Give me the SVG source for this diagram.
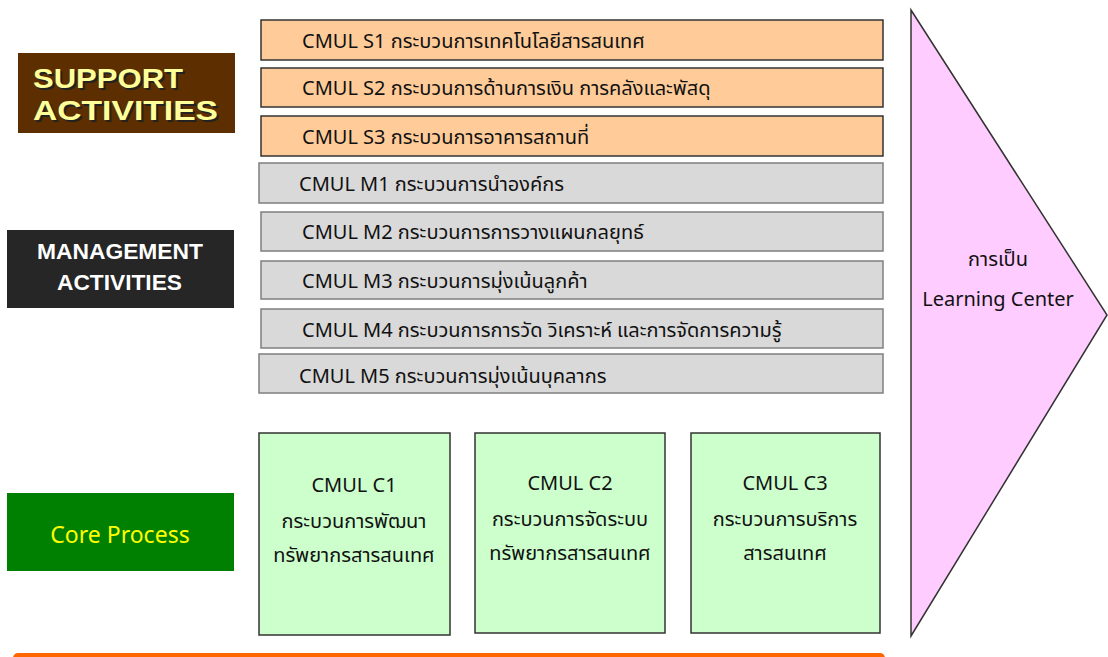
<svg xmlns="http://www.w3.org/2000/svg" width="1108" height="657" viewBox="0 0 1108 657">
<style>
.sup{fill:#ffcc99;stroke:#333;stroke-width:1.5}
.mgt{fill:#d9d9d9;stroke:#7f7f7f;stroke-width:1.5}
.core{fill:#ccffcc;stroke:#333;stroke-width:1.5}
.t{font-family:"Noto Sans","Noto Sans Thai","DejaVu Sans",sans-serif;font-size:20px;fill:#111}
.tc{font-family:"Noto Sans","Noto Sans Thai","DejaVu Sans",sans-serif;font-size:20px;fill:#111;text-anchor:middle}
.hb{font-family:"Liberation Sans",Arial,sans-serif;font-weight:bold}
</style>
<rect width="1108" height="657" fill="#fff"/>
<g id="support-label">
<rect x="18" y="53" width="217" height="80" fill="#5c2e00"/>
<text class="hb" x="35" y="90" font-size="28" fill="#222" textLength="150" lengthAdjust="spacingAndGlyphs">SUPPORT</text>
<text class="hb" x="33" y="88" font-size="28" fill="#ffff99" textLength="150" lengthAdjust="spacingAndGlyphs">SUPPORT</text>
<text class="hb" x="35" y="122" font-size="28" fill="#222" textLength="185" lengthAdjust="spacingAndGlyphs">ACTIVITIES</text>
<text class="hb" x="33" y="120" font-size="28" fill="#ffff99" textLength="185" lengthAdjust="spacingAndGlyphs">ACTIVITIES</text>
</g>
<g id="management-label">
<rect x="7" y="230" width="227" height="78" fill="#262626"/>
<text class="hb" x="37" y="259" font-size="22" fill="#fff" textLength="166" lengthAdjust="spacingAndGlyphs">MANAGEMENT</text>
<text class="hb" x="57" y="290" font-size="22" fill="#fff" textLength="125" lengthAdjust="spacingAndGlyphs">ACTIVITIES</text>
</g>
<g id="core-label">
<rect x="7" y="493" width="227" height="78" fill="#008000"/>
<text x="120" y="543" font-family="Noto Sans,sans-serif" font-size="23" fill="#ffff00" text-anchor="middle">Core Process</text>
</g>
<g id="S1"><rect class="sup" x="261" y="20" width="622" height="40"/><text class="t" x="302" y="48">CMUL S1 กระบวนการเทคโนโลยีสารสนเทศ</text></g>
<g id="S2"><rect class="sup" x="261" y="68" width="622" height="39"/><text class="t" x="302" y="95">CMUL S2 กระบวนการด้านการเงิน การคลังและพัสดุ</text></g>
<g id="S3"><rect class="sup" x="261" y="116" width="622" height="40"/><text class="t" x="302" y="144">CMUL S3 กระบวนการอาคารสถานที่</text></g>
<g id="M1"><rect class="mgt" x="259" y="163" width="624" height="40"/><text class="t" x="299" y="191">CMUL M1 กระบวนการนำองค์กร</text></g>
<g id="M2"><rect class="mgt" x="261" y="212" width="622" height="39"/><text class="t" x="302" y="239">CMUL M2 กระบวนการการวางแผนกลยุทธ์</text></g>
<g id="M3"><rect class="mgt" x="261" y="261" width="622" height="38"/><text class="t" x="302" y="288">CMUL M3 กระบวนการมุ่งเน้นลูกค้า</text></g>
<g id="M4"><rect class="mgt" x="261" y="309" width="622" height="39"/><text class="t" x="302" y="337">CMUL M4 กระบวนการการวัด วิเคราะห์ และการจัดการความรู้</text></g>
<g id="M5"><rect class="mgt" x="259" y="354" width="624" height="39"/><text class="t" x="299" y="383">CMUL M5 กระบวนการมุ่งเน้นบุคลากร</text></g>
<g id="C1"><rect class="core" x="259" y="433" width="191" height="202"/>
<text class="tc" x="354" y="492">CMUL C1</text><text class="tc" x="354" y="528">กระบวนการพัฒนา</text><text class="tc" x="354" y="562">ทรัพยากรสารสนเทศ</text></g>
<g id="C2"><rect class="core" x="475" y="433" width="190" height="200"/>
<text class="tc" x="570" y="490">CMUL C2</text><text class="tc" x="570" y="526">กระบวนการจัดระบบ</text><text class="tc" x="570" y="560">ทรัพยากรสารสนเทศ</text></g>
<g id="C3"><rect class="core" x="691" y="433" width="189" height="200"/>
<text class="tc" x="785" y="490">CMUL C3</text><text class="tc" x="785" y="526">กระบวนการบริการ</text><text class="tc" x="785" y="560">สารสนเทศ</text></g>
<g id="learning-center">
<polygon points="911,10 1107,315 911,636" fill="#ffccff" stroke="#333" stroke-width="1.5"/>
<text class="tc" x="998" y="266" font-size="22">การเป็น</text>
<text class="tc" x="998" y="306">Learning Center</text>
</g>
<g id="base-bar"><rect x="13" y="653" width="872" height="12" rx="5" fill="#ff6600"/></g>
<g id="connectors"></g>
</svg>
